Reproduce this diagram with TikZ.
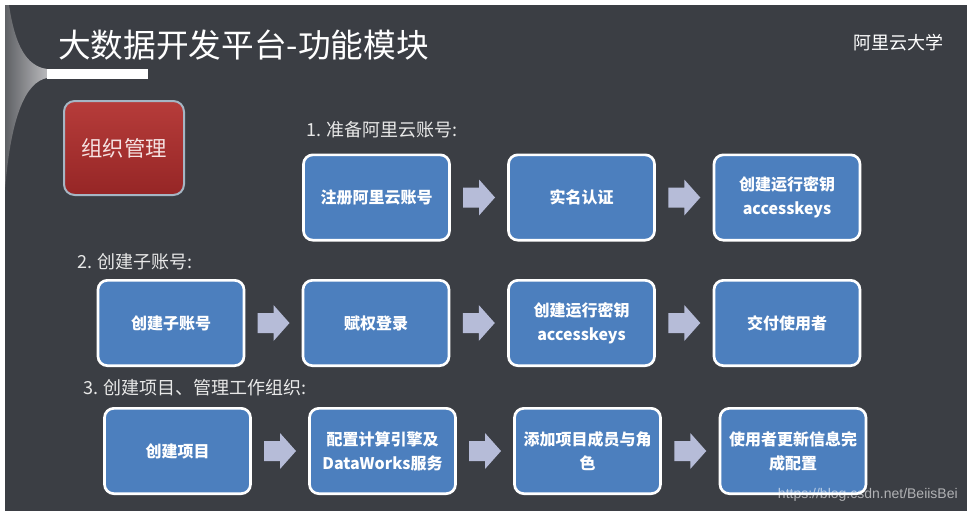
\documentclass[tikz,border=0pt]{standalone}
\usepackage{fontspec}
\newfontfamily\cjk{Noto Sans CJK SC}
\newfontfamily\wm{Liberation Sans}
\usetikzlibrary{calc}
\definecolor{slidebg}{RGB}{59,62,68}
\definecolor{boxblue}{RGB}{76,127,190}
\definecolor{arrowc}{RGB}{182,188,216}
\definecolor{redtop}{RGB}{182,60,58}
\definecolor{redbot}{RGB}{150,38,38}
\definecolor{redborder}{RGB}{165,182,196}
\definecolor{labelc}{RGB}{232,232,232}
\definecolor{redtext}{RGB}{245,226,226}
\definecolor{swooshdark}{RGB}{95,97,101}
\definecolor{swooshlight}{RGB}{185,185,188}
\tikzset{
  flowbox/.style={draw=white, line width=2pt, fill=boxblue, rounded corners=7pt,
    minimum width=109.5pt, minimum height=64pt, inner sep=2pt, align=center,
    text width=104pt, text=white, font=\cjk\bfseries\fontsize{12}{18}\selectfont},
  seclabel/.style={anchor=west, text=labelc, inner sep=0pt, font=\cjk\fontsize{13.5}{16}\selectfont},
  barrow/.pic={\fill[arrowc] (-16,-10) -- (0,-10) -- (0,-18) -- (16,0) -- (0,18) -- (0,10) -- (-16,10) -- cycle;}
}
\begin{document}
\begin{tikzpicture}[x=0.75pt,y=-0.75pt]
\useasboundingbox (0,0) rectangle (975,518);
\fill[white] (0,0) rectangle (975,518);
\fill[slidebg] (5,5) rectangle (967,511);
% left swoosh
\shade[left color=swooshdark, right color=swooshlight]
  (5,5) -- (9,5) .. controls (15,45) and (26,66) .. (47,69)
  -- (47,78) .. controls (26,82) and (11,115) .. (5,190) -- cycle;
\fill[white] (47,69) rectangle (148,79);
% title
\node[anchor=west, text=white, inner sep=0pt, font=\cjk\fontsize{24.5}{28}\selectfont] (title) at (58,45) {大数据开发平台-功能模块};
\node[anchor=east, text=white, inner sep=0pt, font=\cjk\fontsize{13.5}{16}\selectfont] (brand) at (944,43) {阿里云大学};
% red box
\node[draw=redborder, line width=1.5pt, top color=redtop, bottom color=redbot, rounded corners=8pt,
  minimum width=90pt, minimum height=70.5pt, text=redtext,
  font=\cjk\fontsize{16}{18}\selectfont] (org) at (124,148) {组织管理};
% section labels
\node[seclabel] (s1) at (306,130) {1. 准备阿里云账号:};
\node[seclabel] (s2) at (77,262) {2. 创建子账号:};
\node[seclabel] (s3) at (83,388) {3. 创建项目、管理工作组织:};
% row 1
\node[flowbox] (a1) at (376.5,197.5) {注册阿里云账号};
\node[flowbox] (a2) at (581.5,197.5) {实名认证};
\node[flowbox] (a3) at (787,197.5) {创建运行密钥\\accesskeys};
% row 2
\node[flowbox] (b1) at (171,323) {创建子账号};
\node[flowbox] (b2) at (376,323) {赋权登录};
\node[flowbox] (b3) at (581.5,323) {创建运行密钥\\accesskeys};
\node[flowbox] (b4) at (787,323) {交付使用者};
% row 3
\node[flowbox] (c1) at (177.5,451) {创建项目};
\node[flowbox] (c2) at (382.5,451) {配置计算引擎及\\DataWorks服务};
\node[flowbox] (c3) at (587.5,451) {添加项目成员与角\\色};
\node[flowbox] (c4) at (793,451) {使用者更新信息完\\成配置};
% arrows
\path ($(a1.east)!0.5!(a2.west)$) pic {barrow};
\path ($(a2.east)!0.5!(a3.west)$) pic {barrow};
\path ($(b1.east)!0.5!(b2.west)$) pic {barrow};
\path ($(b2.east)!0.5!(b3.west)$) pic {barrow};
\path ($(b3.east)!0.5!(b4.west)$) pic {barrow};
\path ($(c1.east)!0.5!(c2.west)$) pic {barrow};
\path ($(c2.east)!0.5!(c3.west)$) pic {barrow};
\path ($(c3.east)!0.5!(c4.west)$) pic {barrow};
% watermark
\node[anchor=east, inner sep=0pt, text=white, opacity=0.6, font=\wm\fontsize{10.5}{12}\selectfont] (wmark) at (958,495) {https://blog.csdn.net/BeiisBei};
\end{tikzpicture}
\end{document}
